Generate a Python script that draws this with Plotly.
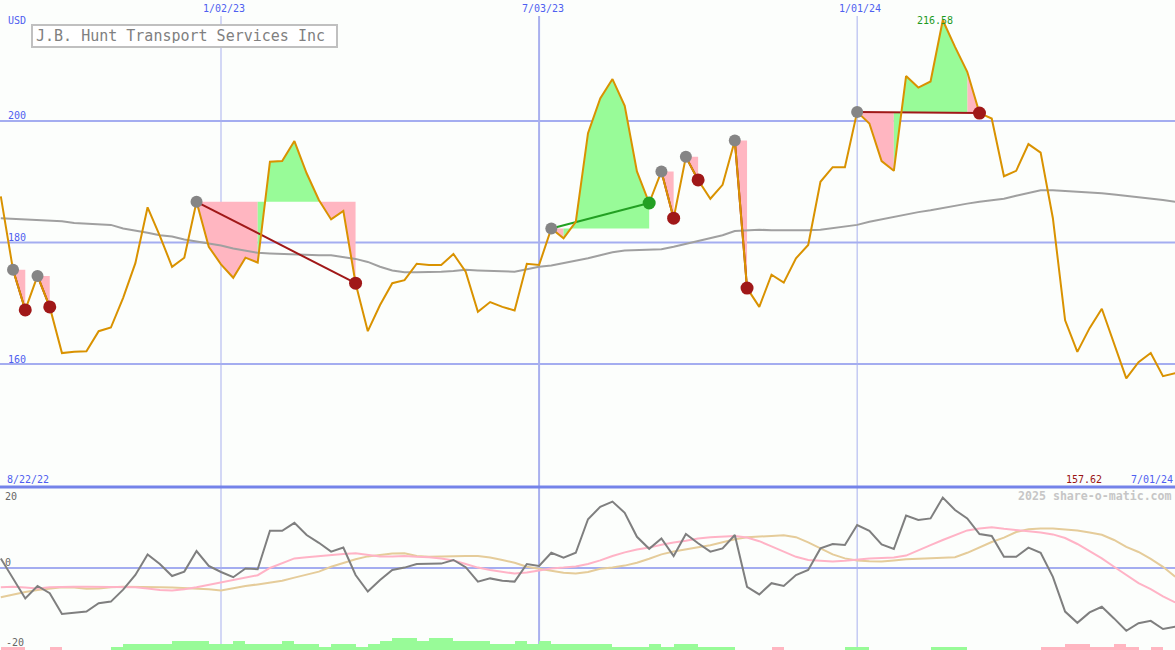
import pandas as pd
import plotly.graph_objects as go

W, H = 1175, 650

# Weekly closes, J.B. Hunt Transport Services (USD)
dates = pd.date_range("2022-08-29", periods=97, freq="7D")

price = [
    187.6, 175.5, 168.9, 174.5, 169.4, 161.8, 162.0, 162.1, 165.4, 166.0,
    170.9, 176.6, 185.8, 181.1, 176.0, 177.5, 186.7, 179.3, 176.4, 174.2,
    177.5, 176.7, 193.3, 193.4, 196.7, 191.4, 187.0, 183.8, 185.2, 173.3,
    165.4, 169.7, 173.3, 173.8, 176.5, 176.3, 176.3, 178.1, 175.2, 168.6,
    170.2, 169.4, 168.8, 176.5, 176.3, 182.3, 180.7, 183.4, 198.0, 203.7,
    206.9, 202.5, 191.7, 186.5, 191.7, 184.0, 194.1, 190.3, 187.2, 189.5,
    196.8, 172.5, 169.4, 174.7, 173.4, 177.4, 179.6, 190.0, 192.4, 192.4,
    201.5, 199.6, 193.4, 191.8, 207.4, 205.5, 206.5, 216.58, 212.2, 208.1,
    201.3, 200.4, 190.9, 191.8, 196.2, 194.8, 184.0, 167.2, 162.0, 165.9,
    169.1, 163.5, 157.62, 160.3, 161.8, 158.0, 158.5,
]

# Long moving average of the close
moving_avg = [
    184.0, 183.9, 183.9, 183.8, 183.6, 183.5, 183.2, 183.1, 183.0, 182.9,
    182.3, 182.0, 181.6, 181.2, 181.0, 180.5, 180.2, 179.9, 179.5, 179.0,
    178.7, 178.3, 178.2, 178.1, 178.1, 178.0, 177.9, 177.9, 177.6, 177.3,
    176.8, 176.0, 175.4, 175.1, 175.1, 175.1, 175.2, 175.3, 175.5, 175.4,
    175.3, 175.2, 175.2, 175.6, 176.0, 176.2, 176.6, 176.9, 177.4, 177.9,
    178.4, 178.7, 178.8, 178.8, 178.9, 179.3, 179.8, 180.2, 180.7, 181.2,
    181.9, 182.0, 182.1, 182.0, 182.0, 181.9, 182.0, 182.1, 182.4, 182.6,
    182.9, 183.4, 183.8, 184.3, 184.7, 185.0, 185.3, 185.7, 186.0, 186.4,
    186.7, 187.0, 187.2, 187.7, 188.1, 188.6, 188.6, 188.5, 188.3, 188.2,
    188.1, 187.9, 187.7, 187.4, 187.2, 187.0, 186.7,
]

# Lower panel: momentum oscillator and its two smoothed versions
momentum = [
    2.4, -2.5, -7.6, -4.5, -6.3, -11.5, -11.2, -10.9, -8.8, -8.4,
    -5.4, -1.75, 3.4, 1.0, -2.0, -0.9, 4.25, 0.5, -1.0, -2.3,
    -0.1, -0.3, 9.3, 9.3, 11.3, 8.25, 6.3, 4.1, 5.1, -1.75,
    -5.9, -3.0, -0.5, 0.1, 1.0, 1.0, 1.1, 2.0, 0.2, -3.4,
    -2.6, -3.2, -3.4, 1.0, 0.5, 3.8, 2.6, 3.8, 12.2, 15.3,
    16.6, 13.8, 7.8, 4.8, 7.4, 3.0, 8.5, 6.2, 4.1, 4.9,
    8.25, -4.7, -6.6, -3.8, -4.5, -1.75, -0.5, 4.9, 6.0, 5.75,
    10.75, 9.3, 5.9, 4.75, 13.1, 12.0, 12.4, 17.6, 14.5, 12.4,
    8.5, 8.0, 2.8, 2.8, 5.1, 3.8, -2.2, -10.9, -13.7, -11.1,
    -9.7, -12.6, -15.7, -13.8, -13.2, -15.25, -14.7,
]
momentum_fast = [
    -4.8, -4.7, -4.9, -5.1, -4.8, -4.7, -4.7, -4.7, -4.7, -4.7,
    -4.8, -4.8, -5.1, -5.5, -5.6, -5.3, -4.8, -4.2, -3.6, -3.1,
    -2.4, -1.8, 0.0, 1.3, 2.4, 2.7, 3.0, 3.2, 3.5, 3.7,
    3.3, 2.9, 2.9, 3.0, 2.8, 2.7, 2.4, 1.9, 1.0, 0.1,
    -0.5, -0.9, -1.4, -1.1, -0.6, -0.1, 0.1, 0.4, 1.0, 1.9,
    3.0, 3.9, 4.6, 5.1, 5.8, 6.4, 6.8, 7.4, 7.7, 7.9,
    8.0, 7.6, 6.7, 5.4, 4.0, 2.8, 2.0, 1.8, 1.6, 1.8,
    2.1, 2.4, 2.5, 2.6, 3.1, 4.5, 5.7, 7.0, 8.3, 9.4,
    9.9, 10.2, 9.8, 9.5, 9.2, 8.9, 8.4, 7.5, 6.0, 4.3,
    2.4, 0.3, -1.8, -3.8, -5.3, -7.1, -8.6,
]
momentum_slow = [
    -7.3, -6.6, -6.0, -5.5, -5.1, -4.8, -4.9, -5.2, -5.1, -4.8,
    -4.7, -4.7, -4.7, -4.8, -4.9, -5.0, -5.1, -5.3, -5.6, -5.0,
    -4.5, -4.1, -3.7, -3.2, -2.4, -1.6, -0.9, 0.3, 1.2, 2.2,
    2.9, 3.3, 3.6, 3.7, 3.0, 2.8, 2.9, 3.0, 3.0, 3.0,
    2.6, 2.0, 1.3, 0.3, -0.2, -0.6, -1.2, -1.4, -1.0, -0.2,
    0.1, 0.6, 1.3, 2.3, 3.4, 4.1, 4.7, 5.2, 5.7, 6.4,
    7.2, 7.7, 7.8, 8.0, 8.2, 7.7, 6.4, 4.8, 3.4, 2.4,
    1.9, 1.7, 1.6, 1.9, 2.2, 2.3, 2.4, 2.5, 2.7, 3.8,
    5.2, 6.5, 7.6, 9.0, 9.7, 9.9, 9.9, 9.7, 9.4, 8.9,
    8.3, 7.0, 5.3, 4.0, 2.3, 0.3, -2.2,
]
# Weekly signal strength (positive = bullish, negative = bearish)
signal_level = [
    -1, -1, 0, 0, -1, 0, 0, 0, 0, 1,
    2, 2, 2, 2, 3, 3, 3, 2, 2, 3,
    2, 2, 2, 3, 2, 2, 1, 2, 2, 1,
    2, 3, 4, 4, 3, 4, 4, 3, 3, 3,
    2, 2, 3, 2, 3, 2, 2, 2, 2, 2,
    1, 1, 1, 2, 1, 2, 2, 1, 1, 1,
    0, 0, 0, -1, 0, 0, 0, 0, 0, 1,
    1, 0, 0, 0, 0, 0, 1, 1, 1, 0,
    0, 0, 0, 0, 0, -1, -1, -2, -2, -1,
    -1, -2, -1, 0, -1, 0, 0,
]

# Trades: index of entry week and exit week
trade_entry = [1, 3, 16, 45, 54, 56, 60, 70]
trade_exit = [2, 4, 29, 53, 55, 57, 61, 80]

high_label = "216.58"
low_label = "157.62"
title_text = "J.B. Hunt Transport Services Inc"

BLUE_TXT = "#4f5ff0"
GRID = "#a4adf0"
PINK = "#ffb6c1"
GREEN = "#98fb98"
RED_DOT = "#a01818"
GREEN_DOT = "#23a023"
GRAY_DOT = "#858585"
PRICE_CLR = "#d99200"
FONT = "DejaVu Sans Mono"

MAIN_BOTTOM = 163 / H  # paper fraction of the lower panel

fig = go.Figure()

# Profit / loss shading between entry level and price, one polygon per week
pink_x, pink_y, green_x, green_y = [], [], [], []
for e, x in zip(trade_entry, trade_exit):
    lvl = price[e]
    for k in range(e, x):
        px_ = [dates[k], dates[k], dates[k + 1], dates[k + 1], dates[k]]
        py_ = [lvl, price[k], price[k + 1], lvl, lvl]
        if price[k + 1] > lvl:
            green_x += px_ + [None]
            green_y += py_ + [None]
        else:
            pink_x += px_ + [None]
            pink_y += py_ + [None]

for xs, ys, c in [(pink_x, pink_y, PINK), (green_x, green_y, GREEN)]:
    fig.add_trace(go.Scatter(x=xs, y=ys, mode="lines", fill="toself",
                             fillcolor=c, line=dict(width=0, color=c),
                             hoverinfo="skip"))

fig.add_trace(go.Scatter(x=dates, y=moving_avg, mode="lines",
                         line=dict(color="#a0a0a0", width=2)))

# Entry-to-exit connectors sit under the price line
for e, x in zip(trade_entry, trade_exit):
    win = price[x] > price[e]
    fig.add_trace(go.Scatter(x=[dates[e], dates[x]], y=[price[e], price[x]],
                             mode="lines",
                             line=dict(color=GREEN_DOT if win else RED_DOT, width=2)))

fig.add_trace(go.Scatter(x=dates, y=price, mode="lines",
                         line=dict(color=PRICE_CLR, width=2)))

fig.add_trace(go.Scatter(x=[dates[e] for e in trade_entry],
                         y=[price[e] for e in trade_entry], mode="markers",
                         marker=dict(size=12, color=GRAY_DOT, line=dict(width=0))))
fig.add_trace(go.Scatter(x=[dates[x] for x in trade_exit],
                         y=[price[x] for x in trade_exit], mode="markers",
                         marker=dict(size=13, line=dict(width=0),
                                     color=[GREEN_DOT if price[x] > price[e] else RED_DOT
                                            for e, x in zip(trade_entry, trade_exit)])))

# Lower panel
fig.add_trace(go.Bar(x=dates, y=[abs(v) for v in signal_level], yaxis="y3",
                     width=7 * 86400000, offset=0,
                     marker=dict(color=[GREEN if v > 0 else PINK for v in signal_level],
                                 line=dict(width=0))))
fig.add_trace(go.Scatter(x=dates, y=momentum_slow, yaxis="y2", mode="lines",
                         line=dict(color="#e5cc9a", width=2)))
fig.add_trace(go.Scatter(x=dates, y=momentum_fast, yaxis="y2", mode="lines",
                         line=dict(color="#ffb3c6", width=2)))
fig.add_trace(go.Scatter(x=dates, y=momentum, yaxis="y2", mode="lines",
                         line=dict(color="#7f7f7f", width=2)))

shapes = []
for v in [160, 180, 200]:
    shapes.append(dict(type="line", xref="paper", yref="y", x0=0, x1=1, y0=v, y1=v,
                       line=dict(color=GRID, width=2), layer="below"))
shapes.append(dict(type="line", xref="paper", yref="y2", x0=0, x1=1, y0=0, y1=0,
                   line=dict(color=GRID, width=2), layer="below"))
for d, w in [("2023-01-02", 1), ("2023-07-03", 2), ("2024-01-01", 1)]:
    shapes.append(dict(type="line", xref="x", yref="paper", x0=d, x1=d,
                       y0=0, y1=1 - 16 / H,
                       line=dict(color="#a9b0ee", width=w), layer="below"))
shapes.append(dict(type="line", xref="paper", yref="paper", x0=0, x1=1,
                   y0=MAIN_BOTTOM, y1=MAIN_BOTTOM,
                   line=dict(color="#7483e9", width=3), layer="above"))


def label(text, px, py, color, size=10, xanchor="center", **kw):
    return dict(text=text, x=px / W, y=1 - py / H, xref="paper", yref="paper",
                xanchor=xanchor, yanchor="middle", showarrow=False,
                font=dict(family=FONT, size=size, color=color), **kw)


annotations = [
    label("USD", 6, 20, BLUE_TXT, xanchor="left"),
    label("200", 6, 115.5, BLUE_TXT, xanchor="left"),
    label("180", 6, 237.5, BLUE_TXT, xanchor="left"),
    label("160", 6, 359, BLUE_TXT, xanchor="left"),
    label("1/02/23", 224.3, 9, BLUE_TXT),
    label("7/03/23", 542.5, 9, BLUE_TXT),
    label("1/01/24", 860, 9, BLUE_TXT),
    label(high_label, 935.3, 21, "#1e9a1e"),
    label("8/22/22", 28.3, 479, BLUE_TXT),
    label(low_label, 1084.3, 479, "#9a1414"),
    label("7/01/24", 1151.7, 479, BLUE_TXT),
    label("<b>2025 share-o-matic.com</b>", 1095, 496, "#c6c6c6", size=11.6),
    label("20", 11.5, 496, "#666666"),
    label("0", 8.2, 562, "#666666"),
    label("-20", 14.7, 642, "#666666"),
    dict(text=title_text, x=31 / W, y=1 - 24 / H, xref="paper", yref="paper",
         xanchor="left", yanchor="top", showarrow=False, align="left",
         width=297, height=14, borderpad=3, borderwidth=2,
         bordercolor="#c0c0c0", bgcolor="#ffffff",
         font=dict(family=FONT, size=15, color="#808080")),
]

fig.update_layout(
    width=W, height=H, margin=dict(l=0, r=0, t=0, b=0),
    paper_bgcolor="#fcfefc", plot_bgcolor="#fcfefc",
    showlegend=False, hovermode=False, bargap=0,
    xaxis=dict(range=["2022-08-28 13:00", "2024-06-30 21:00"], visible=False,
               anchor="y2"),
    yaxis=dict(domain=[MAIN_BOTTOM, 1], range=[139.75, 219.92], visible=False),
    yaxis2=dict(domain=[0, MAIN_BOTTOM], range=[-20.5, 20.25], visible=False),
    yaxis3=dict(overlaying="y2", range=[0, 163 / 3], visible=False),
    shapes=shapes, annotations=annotations,
)

fig.write_html("out.html")
